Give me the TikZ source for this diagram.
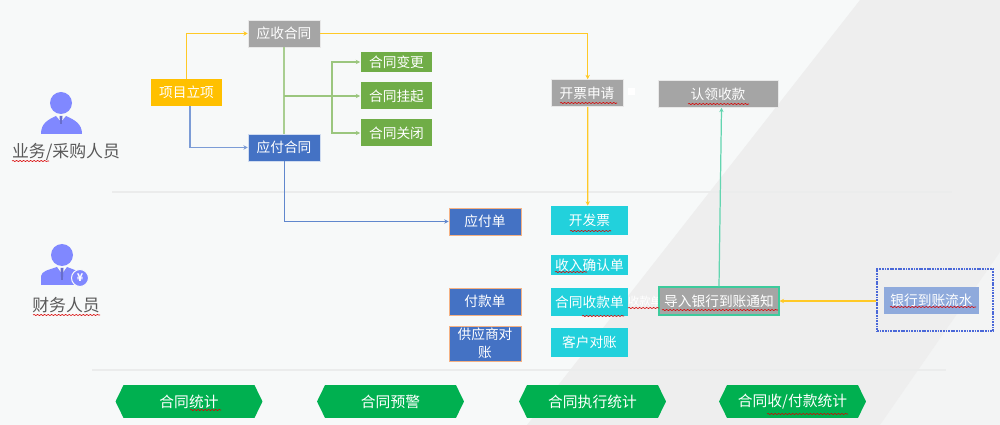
\documentclass[tikz,border=0pt]{standalone}
\usepackage{fontspec}
\setmainfont{Noto Sans CJK SC}
\usetikzlibrary{arrows.meta,shapes.symbols,decorations.pathmorphing}

\definecolor{pagebg}{HTML}{F7F9F9}
\definecolor{bandlight}{HTML}{F3F4F4}
\definecolor{banddark}{HTML}{EEEEEE}
\definecolor{sepline}{HTML}{EBECEC}
\definecolor{cgray}{HTML}{A5A5A5}
\definecolor{cyellow}{HTML}{FFC000}
\definecolor{cblue}{HTML}{4472C4}
\definecolor{cdash}{HTML}{4A68D8}
\definecolor{cgreen}{HTML}{70AD47}
\definecolor{ccyan}{HTML}{22D1DC}
\definecolor{cteal}{HTML}{3CCB9C}
\definecolor{chex}{HTML}{00B050}
\definecolor{cperson}{HTML}{8088FF}
\definecolor{cpale}{HTML}{8FAADC}
\definecolor{corange}{HTML}{F4B183}

\tikzset{
    block/.style = {
        rectangle,
        minimum width=1.44cm,
        minimum height=0.54cm,
        inner sep=0pt,
        align=center,
        text=white,
        font=\fontsize{7.8}{10}\selectfont
    },
    graybox/.style = {block, fill=cgray, draw=white!75!cgray, line width=0.3pt},
    yellowbox/.style = {block, fill=cyellow},
    bluebox/.style = {block, fill=cblue, draw=white!75!cblue, line width=0.3pt},
    greenbox/.style = {block, fill=cgreen},
    cyanbox/.style = {block, fill=ccyan, minimum width=1.54cm},
    billbox/.style = {block, fill=cblue, draw=corange, line width=0.5pt},
    hexbox/.style = {
        signal,
        signal to=west and east,
        signal pointer angle=128,
        fill=chex,
        inner sep=0pt,
        minimum width=2.94cm,
        minimum height=0.66cm,
        text=white,
        font=\fontsize{8.4}{10}\selectfont
    },
    rolelabel/.style = {text=black!65, font=\fontsize{9.6}{11}\selectfont},
    arrow/.style = {line width=0.7pt, -{Stealth[length=2.5pt,width=2.5pt]}},
    spell/.style = {
        draw=red!85!black,
        line width=0.35pt,
        decorate,
        decoration={snake, amplitude=0.3pt, segment length=2pt}
    }
}

\begin{document}
\begin{tikzpicture}[x=0.02cm, y=-0.02cm]

\useasboundingbox (0,0) rectangle (1000,425);

% background
\fill [pagebg] (0,0) rectangle (1000,425);
\fill [bandlight] (1000,252) -- (880,425) -- (1000,425) -- cycle;
\fill [banddark] (860,0) -- (527,425) -- (880,425) -- (1000,252) -- (1000,0) -- cycle;
\draw [sepline, line width=0.6pt] (112,192) -- (952,192);
\draw [sepline, line width=0.6pt] (92,370) -- (946,370);

% first person
\fill [cperson] (61,103) circle (11);
\fill [cperson] (41,134) .. controls (41,124) and (47,120) .. (56,116) -- (61,122) -- (66,116) .. controls (75,120) and (82,124) .. (82,134) -- cycle;
\fill [cperson!80!black] (59.5,116) -- (62.5,116) -- (61.8,124) -- (60.2,124) -- cycle;
\node (sales) [rolelabel] at (66,152) {业务/采购人员};

% second person
\fill [cperson] (62,255) circle (11);
\fill [cperson] (41,285) -- (41,276) .. controls (42,271) and (48,270) .. (57,267) -- (62,274) -- (67,267) .. controls (72,269) and (76,270) .. (78,272) -- (78,285) -- cycle;
\fill [cperson!80!black] (60.5,268) -- (63.5,268) -- (62.8,280) -- (61.2,280) -- cycle;
\node (yen) [circle, fill=cperson, draw=pagebg, line width=0.6pt, inner sep=0pt, minimum size=0.34cm, text=white, font=\fontsize{6}{6}\selectfont\bfseries] at (80,278) {¥};
\node (finance) [rolelabel] at (66,305) {财务人员};

% contracts
\node (receive) [graybox] at (284,33.5) {应收合同};
\node (project) [yellowbox] at (186.5,92.5) {项目立项};
\node (payable) [bluebox] at (284,147.5) {应付合同};
\node (change) [greenbox, minimum height=0.4cm] at (396.5,62) {合同变更};
\node (suspend) [greenbox] at (396.5,96) {合同挂起};
\node (close) [greenbox] at (396.5,133) {合同关闭};

% billing
\node (billreq) [graybox] at (587,93) {开票申请};
\node (claim) [graybox, minimum width=2.4cm] at (718,94) {认领收款};
\node (paybill) [billbox] at (485,221.5) {应付单};
\node (invoice) [cyanbox, minimum height=0.58cm] at (589.5,220.5) {开发票};
\node (income) [cyanbox, minimum height=0.4cm] at (589.5,265) {收入确认单};
\node (payment) [billbox] at (485,301.5) {付款单};
\node (supplier) [billbox, minimum height=0.7cm] at (485,343.5) {供应商对\\账};
\node (receipt) [cyanbox, minimum height=0.56cm] at (589.5,302) {\raisebox{-2pt}{合同收款单}};
\node (customer) [cyanbox, minimum height=0.58cm] at (589.5,342.5) {客户对账};
\node (hidden) [text=white, font=\fontsize{6.4}{8}\selectfont] at (645,301) {收款单};
\node (notice) [graybox, draw=cteal, line width=0.7pt, minimum width=2.4cm, minimum height=0.56cm] at (719,301) {导入银行到账通知};
\node (flowbox) [draw=cdash, dash pattern=on 1pt off 0.5pt, line width=0.6pt, minimum width=2.32cm, minimum height=1.24cm, inner sep=0pt] at (935,300) {};
\node (flow) [block, fill=cpale, minimum width=1.9cm, minimum height=0.54cm] at (931.5,300.5) {银行到账流水};
\node (spot) [fill=white, minimum width=0.14cm, minimum height=0.14cm, inner sep=0pt] at (631,92) {};

% statistics
\node (stat1) [hexbox] at (189,401.5) {合同统计};
\node (stat2) [hexbox] at (390.5,401.5) {合同预警};
\node (stat3) [hexbox] at (592.5,401.5) {合同执行统计};
\node (stat4) [hexbox] at (792.5,401.5) {合同收/付款统计};

% Arrows
\coordinate (branch) at (284,96);
\coordinate (fork) at (332,96);
\draw [arrow, cyellow!85!white] (project.north) |- (receive.west);
\draw [arrow, cblue!70!white] ([xshift=2pt]project.south) |- (payable.west);
\draw [cgreen!60!white, line width=0.8pt] (receive.south) -- (payable.north);
\draw [arrow, cgreen!70!white] (branch) -- (suspend.west);
\draw [arrow, cgreen!70!white] (fork) |- (change.west);
\draw [arrow, cgreen!70!white] (fork) |- (close.west);
\draw [arrow, cyellow!85!white] (receive.east) -| ([xshift=0.4pt]billreq.north);
\draw [arrow, cyellow!85!white] ([xshift=0.4pt]billreq.south) -- ([xshift=-1pt]invoice.north);
\draw [arrow, cblue!85!white] ([xshift=0.5pt]payable.south) |- (paybill.west);
\draw [arrow, cteal!80!white] (notice.north) -- ([xshift=2pt]claim.south);
\draw [arrow, cyellow!85!white] (flowbox.west |- notice.east) -- (notice.east);

% spelling marks
\draw [spell] (12,161) -- (49,161);
\draw [spell] (33,315) -- (100,315);
\draw [spell] (560,103) -- (617,103);
\draw [spell] (688,104) -- (749,104);
\draw [spell] (570,231) -- (611,231);
\draw [spell] (555,272) -- (587,272);
\draw [spell] (582,316) -- (624,316);
\draw [spell] (628,308) -- (659,308);
\draw [spell] (662,310) -- (778,310);
\draw [spell] (890,307) -- (976,307);
\draw [spell] (190,410) -- (221,410);
\draw [spell] (767,414) -- (848,414);

\end{tikzpicture}
\end{document}
